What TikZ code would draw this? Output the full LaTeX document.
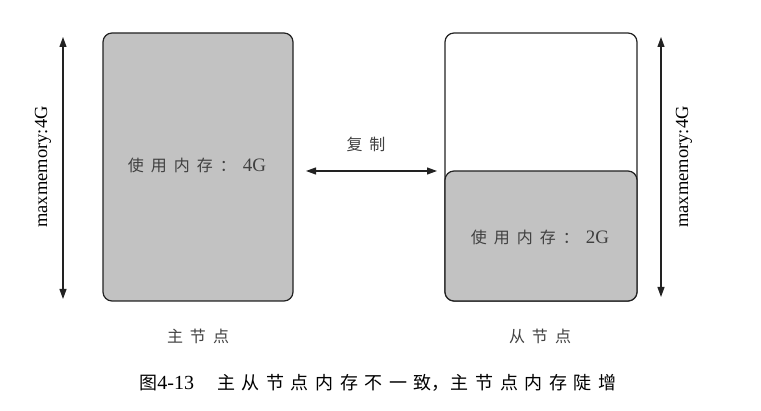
\documentclass[tikz,border=0pt]{standalone}
\usepackage{fontspec}
\setmainfont{Liberation Serif}
\newfontfamily\cjk{Noto Sans CJK SC}
\usetikzlibrary{arrows.meta}
\definecolor{memgray}{RGB}{194,194,194}
\definecolor{edge}{RGB}{34,34,34}
\newcommand{\gp}{\hspace{7pt}}
\newcommand{\cg}{\hspace{6.6pt}}
\tikzset{
  membox/.style={draw=edge, line width=1.2pt, rounded corners=9pt, inner sep=0pt},
  dimarrow/.style={edge, line width=1.1pt, {Triangle[length=10pt,width=7pt]}-{Triangle[length=10pt,width=7pt]}},
  cjklabel/.style={font=\cjk\fontsize{16}{18}\selectfont, text=black!75, inner sep=0pt},
  dimlabel/.style={font=\fontsize{18.5}{20}\selectfont, rotate=90, inner sep=0pt}
}
\begin{document}
\begin{tikzpicture}[x=1pt,y=-1pt]
\useasboundingbox (0,0) rectangle (761,411);
% master node
\node[membox, fill=memgray, minimum width=190pt, minimum height=268pt] (master) at (198,167) {};
\node[cjklabel] (mtext) at (197,165) {使\gp 用\gp 内\gp 存\gp ：\gp {\rmfamily\fontsize{19}{21}\selectfont 4G}};
\node[cjklabel] (mname) at (198,336) {主\gp 节\gp 点};
% slave node
\node[membox, fill=white, minimum width=192pt, minimum height=268pt] (slave) at (541,167) {};
\node[membox, fill=memgray, minimum width=192pt, minimum height=130pt] (slaveused) at (541,236) {};
\node[cjklabel] (stext) at (540,237) {使\gp 用\gp 内\gp 存\gp ：\gp {\rmfamily\fontsize{19}{21}\selectfont 2G}};
\node[cjklabel] (sname) at (540,336) {从\gp 节\gp 点};
% left dimension
\coordinate (lt) at (63,37);
\coordinate (lb) at (63,299);
\draw[dimarrow] (lt) -- (lb);
\node[dimlabel] (llabel) at (43,167) {maxmemory:4G};
% right dimension
\coordinate (rt) at (661,37);
\coordinate (rb) at (661,297);
\draw[dimarrow] (rt) -- (rb);
\node[dimlabel] (rlabel) at (684,167) {maxmemory:4G};
% copy arrow
\coordinate (cl) at (306,171);
\coordinate (cr) at (437,171);
\draw[dimarrow] (cl) -- (cr);
\node[cjklabel] (copy) at (366,144) {复\gp 制};
% caption
\node[inner sep=0pt, font=\cjk\fontsize{18}{20}\selectfont] (caption) at (378,383) {图{\rmfamily\fontsize{20}{22}\selectfont 4-13}\hspace{23pt}主\cg 从\cg 节\cg 点\cg 内\cg 存\cg 不\cg 一\cg 致，\hspace{1pt}主\cg 节\cg 点\cg 内\cg 存\cg 陡\cg 增};
\end{tikzpicture}
\end{document}
